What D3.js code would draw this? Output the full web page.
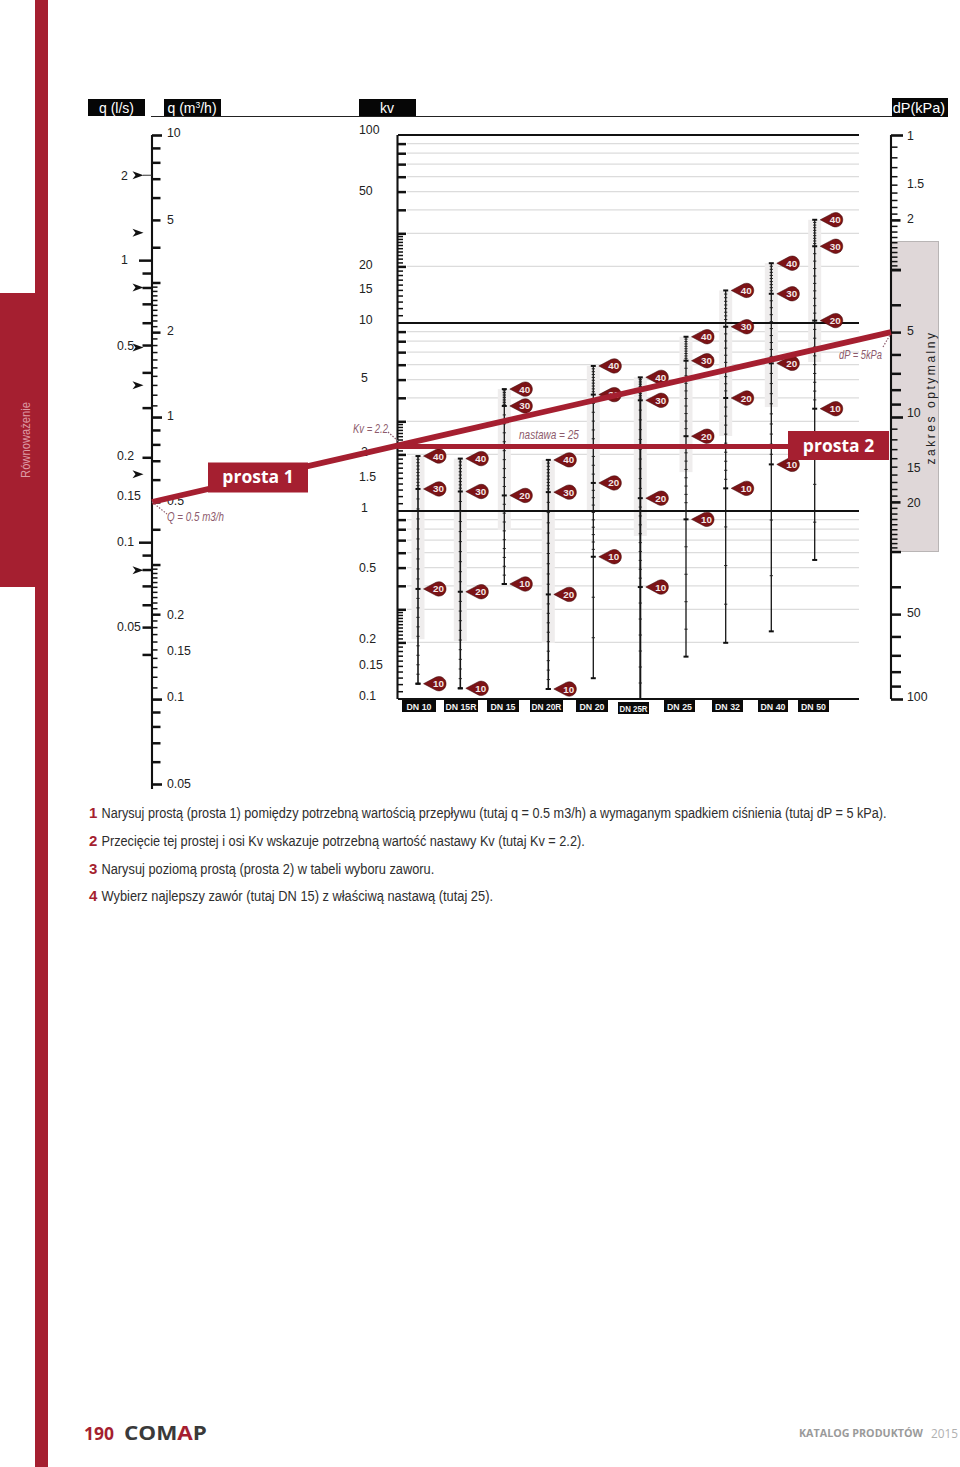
<!DOCTYPE html>
<html><head><meta charset="utf-8">
<script src="https://cdn.jsdelivr.net/npm/d3@7/dist/d3.min.js"></script>
<style>html,body{margin:0;padding:0;background:#fff}svg{display:block}text{font-family:"Liberation Sans",Arial,sans-serif}</style>
</head><body><svg id="c" width="960" height="1467"></svg>
<script>
const RED="#a51f30", INK="#111";
const flowLs=[2,1,0.5,0.2,0.15,0.1,0.05];
const flowM3=[10,5,2,1,0.5,0.2,0.15,0.1,0.05];
const kvLabels=[100,50,20,15,10,5,2,1.5,1,0.5,0.2,0.15,0.1];
const dpLabels=[1,1.5,2,5,10,15,20,50,100];
const arrowsLs=[2,1.25,0.8,0.49,0.36,0.174,0.0796];
const valves=["DN 10","DN 15R","DN 15","DN 20R","DN 20","DN 25R","DN 25","DN 32","DN 40","DN 50"];
const settings=[40,30,20,10];
const kvAt40=[1.96,1.90,4.45,1.87,5.91,5.14,8.45,14.9,20.8,35.4];
const kvAt30=[1.31,1.27,3.62,1.26,4.16,3.88,6.30,9.55,14.3,25.6];
const kvAt20=[0.385,0.372,1.21,0.36,1.41,1.17,2.50,3.99,6.10,10.3];
const kvAt10=[0.1206,0.114,0.409,0.113,0.571,0.394,0.903,1.32,1.77,3.50];
const kvEnd=[0.1206,0.114,0.409,0.113,0.129,0.1,0.168,0.199,0.229,0.549];
const bandEndKv=[0.208,0.2035,0.792,0.1985,1.01,0.736,1.61,2.506,3.57,6.2];
const tailSteps=[0,0,0,0,3,7,5,4,3,4];
const chosen={q:0.5,dp:5,kv:2.2,setting:25};
const steps=[
 ["1","Narysuj prostą (prosta 1) pomiędzy potrzebną wartością przepływu (tutaj q = 0.5 m3/h) a wymaganym spadkiem ciśnienia (tutaj dP = 5 kPa)."],
 ["2","Przecięcie tej prostej i osi Kv wskazuje potrzebną wartość nastawy Kv (tutaj Kv = 2.2)."],
 ["3","Narysuj poziomą prostą (prosta 2) w tabeli wyboru zaworu."],
 ["4","Wybierz najlepszy zawór (tutaj DN 15) z właściwą nastawą (tutaj 25)."]];

const svg=d3.select("#c");
const qS=d3.scaleLog().domain([10,0.05]).range([135,784]);
const lsS=d3.scaleLog().domain([10/3.6,0.05/3.6]).range([135,784]);
const kvS=d3.scaleLog().domain([100,0.1]).range([135,699]);
const dpS=d3.scaleLog().domain([1,100]).range([135,699]);
const X={q:152,kv:397.5,dp:891};
const valveX=[418,460.3,504.3,548.3,593.3,640.3,686,725.7,771.3,814.7];
const vX=d3.scaleOrdinal().domain(valves).range(valveX);

const mul=(d,a)=>a.map(v=>+(v*d).toFixed(6));
const maj=[3,4,5,6,7,8,9];
const min1=d3.range(11,30).filter(v=>v!==20).map(v=>v/10);

function ticks(axisFn,scale,x,vals,size,w){
 const g=svg.append("g").attr("transform",`translate(${x},0)`)
  .call(axisFn(scale).tickValues(vals).tickSize(size).tickFormat(""));
 g.select(".domain").remove();
 g.selectAll("line").attr("stroke",INK).attr("stroke-width",w).attr("transform",function(){return this.parentNode.getAttribute("transform")});
 g.selectAll("g").attr("transform",null);
 return g;
}
function spine(x,y0,y1,w=2.1){svg.append("line").attr("x1",x).attr("x2",x).attr("y1",y0).attr("y2",y1).attr("stroke",INK).attr("stroke-width",w)}
function txt(x,y,s,o={}){const t=svg.append("text").attr("x",x).attr("y",y).text(s)
 .attr("font-size",o.size||12.3).attr("fill",o.fill||"#222");
 if(o.anchor)t.attr("text-anchor",o.anchor);if(o.weight)t.attr("font-weight",o.weight);
 if(o.family)t.style("font-family",o.family);if(o.style)t.attr("font-style",o.style);
 return t}
// squeeze a text horizontally to the width it has on the page
function fit(t,len){const n=t.node(),w=n.getComputedTextLength(),x=+t.attr("x"),y=+t.attr("y");
 t.attr("x",0).attr("y",0).attr("transform",`translate(${x},${y}) scale(${len/w},1)`);return t}

// page chrome
svg.append("rect").attr("x",35).attr("y",0).attr("width",13).attr("height",1467).attr("fill",RED);
svg.append("rect").attr("x",0).attr("y",293).attr("width",35).attr("height",294).attr("fill",RED);
const rown=txt(0,0,"Równoważenie",{size:13,fill:"#dd9aa4",anchor:"middle"});
rown.attr("transform",`translate(29.5,440) rotate(-90) scale(${76/rown.node().getComputedTextLength()},1)`);

// header
svg.append("line").attr("x1",151).attr("x2",892).attr("y1",116.5).attr("y2",116.5).attr("stroke","#222").attr("stroke-width",1);
[[88,57,99,17],[164,57,99,17],[359,57,99,17],[892,56,98,19]].forEach(r=>svg.append("rect").attr("x",r[0]).attr("width",r[1]).attr("y",r[2]).attr("height",r[3]).attr("fill","#060606"));
txt(116.5,112.5,"q (l/s)",{size:14,fill:"#fff",anchor:"middle"});
const qh=txt(167.5,112.5,"q (m",{size:14,fill:"#fff"});
qh.append("tspan").attr("dy",-5).attr("font-size",8.5).text("3");
qh.append("tspan").attr("dy",5).text("/h)");
txt(387,112.5,"kv",{size:14,fill:"#fff",anchor:"middle"});
txt(919,112.5,"dP(kPa)",{size:14.5,fill:"#fff",anchor:"middle"});

// optimal range box
svg.append("rect").attr("x",891).attr("y",241.5).attr("width",47.5).attr("height",310).attr("fill","#dfd7d8").attr("stroke","#b9b5b5").attr("stroke-width",1);
txt(0,0,"zakres optymalny",{size:12,fill:"#222",anchor:"middle"})
 .attr("letter-spacing",2.55).attr("transform","translate(934.5,397.5) rotate(-90)");

// gridlines
const gridVals=[].concat(mul(10,[2,3,4,5,6,7,8,9]),mul(1,[2,3,4,5,6,7,8,9]),mul(0.1,[2,3,4,5,6,7,8,9]));
svg.append("g").selectAll("line").data(gridVals).join("line").attr("x1",407).attr("x2",859)
 .attr("y1",d=>kvS(d)).attr("y2",d=>kvS(d)).attr("stroke","#dcdcdc").attr("stroke-width",1.3);

// valve bands
svg.append("g").selectAll("rect").data(valves).join("rect").attr("x",d=>vX(d)-6.5).attr("width",13)
 .attr("y",(d,i)=>kvS(kvAt40[i])).attr("height",(d,i)=>kvS(bandEndKv[i])-kvS(kvAt40[i])).attr("fill","#efeded");

// main horizontals
svg.append("g").selectAll("line").data([100,10,1,0.1]).join("line").attr("x1",398).attr("x2",859)
 .attr("y1",d=>kvS(d)).attr("y2",d=>kvS(d)).attr("stroke","#111").attr("stroke-width",2);

// q axis
spine(X.q,135,789);
ticks(d3.axisRight,qS,X.q,[10,1,0.1,0.05],10,2.6);
ticks(d3.axisRight,qS,X.q,[].concat(mul(1,maj),[2],mul(0.1,maj),[0.2],[0.09,0.08,0.07,0.06]),8.5,2.5);
ticks(d3.axisRight,qS,X.q,[].concat(min1,mul(0.1,min1)),5.5,1.5);
// l/s ticks
ticks(d3.axisLeft,lsS,X.q,[1,0.1],13,2.5);
ticks(d3.axisLeft,lsS,X.q,[0.9,0.8,0.7,0.6,0.5,0.4,0.3,0.2,0.09,0.08,0.07,0.06,0.05,0.04],9.5,2.5);
svg.append("line").attr("x1",143).attr("x2",X.q).attr("y1",lsS(2)).attr("y2",lsS(2)).attr("stroke","#333").attr("stroke-width",1);
svg.append("g").selectAll("path").data(arrowsLs).join("path")
 .attr("transform",d=>`translate(132.5,${lsS(d)})`).attr("d","M0,-4L11,0L0,4L3,0Z").attr("fill","#111");

// kv axis
spine(X.kv,135,699);
const kvMajor=[].concat([90,80,70,60,50,40,30,20],mul(1,maj),[2],mul(0.1,maj),[0.2]);
ticks(d3.axisRight,kvS,X.kv,kvMajor,8.5,2.5);
const kvMinor=[].concat(mul(10,min1),mul(1,min1),mul(0.1,min1));
ticks(d3.axisRight,kvS,X.kv,kvMinor,5.5,1.5);

// dp axis
spine(X.dp,135,699);
ticks(d3.axisRight,dpS,X.dp,[1,10,100],12,2.6);
ticks(d3.axisRight,dpS,X.dp,[2,20],9.5,2.6);
ticks(d3.axisRight,dpS,X.dp,[].concat(maj,[3],mul(10,maj)),10,2.5);
const dpMinor=[].concat(min1,mul(10,min1));
ticks(d3.axisRight,dpS,X.dp,dpMinor,6.5,1.5);

// labels
const n1={2:1,1:0,0.5:1,0.2:-1,0.15:3,0.1:0,0.05:0};
flowLs.forEach(v=>txt(v>=1?121:117,lsS(v)+4+(n1[v]||0),v));
const n2={10:-2,5:0,2:-1,1:-1,0.5:-1,0.2:1,0.15:2,0.1:-2,0.05:0};
flowM3.forEach(v=>txt(167,qS(v)+4+(n2[v]||0),v));
const n3={100:-5,50:-1,20:-1,15:-1,10:-3,5:-2,2:-2,1.5:-1,1:-3,0.5:0,0.2:-3,0.15:-1,0.1:-3};
kvLabels.forEach(v=>txt(v<10&&v>=1&&v!==1.5?361:359,kvS(v)+4+(n3[v]||0),v));
const n4={1:1,1.5:-1,2:-1,5:-1,10:-4,15:1,20:1,50:-1,100:-2};
dpLabels.forEach(v=>txt(907,dpS(v)+4+(n4[v]||0),v));

// valve columns
valves.forEach((name,i)=>{
 const x=vX(name), vals=[kvAt40[i],kvAt30[i],kvAt20[i],kvAt10[i]];
 const g=svg.append("g");
 const w=(name==="DN 25R"?2:(name==="DN 10"||name==="DN 15R"||name==="DN 20R"?1.6:1.3));
 g.append("line").attr("x1",x).attr("x2",x).attr("y1",kvS(vals[0])).attr("y2",kvS(kvEnd[i])).attr("stroke","#151515").attr("stroke-width",w);
 const grad=[];
 for(let s=0;s<3;s++){for(let k=1;k<10;k++){grad.push(vals[s]*Math.pow(vals[s+1]/vals[s],k/10));}}
 for(let k=1;k<tailSteps[i];k++){grad.push(vals[3]*Math.pow(kvEnd[i]/vals[3],k/tailSteps[i]));}
 g.selectAll(".m").data(grad).join("line").attr("class","m").attr("x1",x-1.6).attr("x2",x+1.6)
  .attr("y1",d=>kvS(d)).attr("y2",d=>kvS(d)).attr("stroke","#222").attr("stroke-width",1);
 g.selectAll(".e").data(vals.concat([kvEnd[i]])).join("line").attr("class","e").attr("x1",x-2.5).attr("x2",x+2.5)
  .attr("y1",d=>kvS(d)).attr("y2",d=>kvS(d)).attr("stroke","#111").attr("stroke-width",2);
});
const drops=svg.append("g");
valves.forEach((name,i)=>{
 [kvAt40[i],kvAt30[i],kvAt20[i],kvAt10[i]].forEach((v,j)=>{
  const g=drops.append("g").attr("transform",`translate(${vX(name)+21},${kvS(v)})`);
  g.append("path").attr("d","M-15.5,0L-3,-6.6A7.2,7.2 0 1 1 -3,6.6Z").attr("fill","#7c1316").attr("stroke","#3a0709").attr("stroke-width",.5);
  g.append("text").attr("text-anchor","middle").attr("x",-.5).attr("y",3.5).attr("font-size",9.8).attr("font-weight","bold").attr("fill","#f3e7e7").text(settings[j]);
 });
});

// DN labels
const dnBox=[[402,34,700],[444,34,700],[487,32,700],[530,33,700],[576,32,700],[618,31,702],[664,31,700],[712,31,700],[758,30,700],[798,31,700]];
valves.forEach((name,i)=>{const b=dnBox[i];
 svg.append("rect").attr("x",b[0]).attr("y",b[2]).attr("width",b[1]).attr("height",12).attr("fill","#0a0a0a");
 const L=/R$/.test(name)?b[1]-3:25;
 fit(txt(b[0]+(b[1]-L)/2,b[2]+9.5,name,{size:9.5,weight:"bold",fill:"#f2f2f2"}),L);
});

// construction lines
const y1=qS(chosen.q), y2=dpS(chosen.dp), yKv=kvS(chosen.kv);
svg.append("line").attr("x1",X.q).attr("y1",y1).attr("x2",X.dp).attr("y2",y2).attr("stroke",RED).attr("stroke-width",5.8);
svg.append("line").attr("x1",X.kv).attr("y1",yKv).attr("x2",790).attr("y2",yKv).attr("stroke",RED).attr("stroke-width",5);
[[208,462.5,100,30,"prosta 1"],[788,431,101,29,"prosta 2"]].forEach(b=>{
 svg.append("rect").attr("x",b[0]).attr("y",b[1]).attr("width",b[2]).attr("height",b[3]).attr("fill",RED);
 txt(b[0]+b[2]/2,b[1]+20.5,b[4],{size:17.5,weight:"bold",fill:"#fff",anchor:"middle",family:"'Open Sans',sans-serif"});
});
const NOTE="#8d5b6c";
[[152,y1,167,514],[388,432,398,441],[883,347,890,335]].forEach(d=>svg.append("line").attr("x1",d[0]).attr("y1",d[1]).attr("x2",d[2]).attr("y2",d[3]).attr("stroke",NOTE).attr("stroke-width",1.2).attr("stroke-dasharray","1.5 1.5"));
fit(txt(167,521,"Q = 0.5 m3/h",{size:12,fill:NOTE,style:"italic"}),57);
fit(txt(353,433,"Kv = 2.2",{size:12,fill:NOTE,style:"italic"}),35);
fit(txt(839,359,"dP = 5kPa",{size:12,fill:NOTE,style:"italic"}),43);
fit(txt(519,439,"nastawa = 25",{size:12,fill:NOTE,style:"italic"}),60);

// instructions
const stepY=[818,846,874,901], stepLen=[786,484,333,392];
steps.forEach((s,i)=>{
 txt(89,stepY[i],s[0],{size:15,weight:"bold",fill:RED});
 fit(txt(101.5,stepY[i],s[1],{size:15.5,fill:"#2e2e2e"}),stepLen[i]);
});

// footer
fit(txt(84,1440,"190",{size:18.5,weight:"bold",fill:RED,family:"'Open Sans',sans-serif"}),30);
const logo=txt(124,1439.5,"COM",{size:19,weight:"bold",fill:"#3a3a3a",family:"'Open Sans',sans-serif"});
logo.append("tspan").attr("fill",RED).text("A");logo.append("tspan").text("P");
fit(logo,83);
fit(txt(799,1437,"KATALOG PRODUKTÓW",{size:11,weight:"bold",fill:"#9a9a9a",family:"'Open Sans',sans-serif"}),124);
fit(txt(931,1438,"2015",{size:13,fill:"#b0b0b0",family:"'Open Sans',sans-serif"}),27);
</script></body></html>
